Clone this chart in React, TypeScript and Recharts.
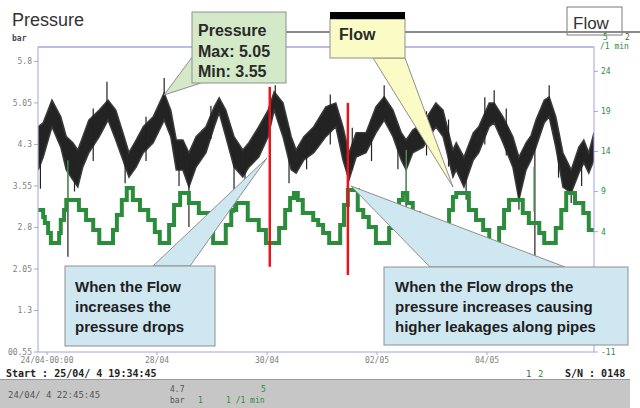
import React from "react";
import { ComposedChart, Area, Line, XAxis, YAxis, ReferenceLine } from "recharts";

// ---- data ----
const xTicks = [0, 2, 4, 6, 8];
const xTickLabels = ["24/04-00:00", "28/04", "30/04", "02/05", "04/05"];

const leftTicks = [0.55, 1.3, 2.05, 2.8, 3.55, 4.3, 5.05, 5.8];
const leftTickLabels = ["00.55", "1.3", "2.05", "2.8", "3.55", "4.3", "5.05", "5.8"];

// -6 and -1 are hidden behind the callout box in the reference
const rightTicks = [-11, -6, -1, 4, 9, 14, 19, 24];
const rightTickLabels = ["-11", "", "", "4", "9", "14", "19", "24"];

// pressure band (days since 26/04 00:00)
const pDays = [-0.16, -0.07, 0.09, 0.25, 0.35, 0.47, 0.56, 0.65, 0.76, 0.95, 1.11, 1.25, 1.38, 1.49, 1.62, 1.75, 1.93, 2.13, 2.25, 2.35, 2.47, 2.58, 2.71, 2.89, 3.04, 3.13, 3.25, 3.4, 3.56, 3.67, 3.85, 4.02, 4.13, 4.29, 4.44, 4.53, 4.67, 4.85, 5.07, 5.25, 5.38, 5.49, 5.62, 5.8, 5.98, 6.13, 6.29, 6.44, 6.53, 6.65, 6.84, 7.07, 7.2, 7.38, 7.44, 7.58, 7.75, 7.85, 8.04, 8.13, 8.29, 8.47, 8.58, 8.71, 8.8, 8.89, 9.04, 9.13, 9.25, 9.38, 9.53, 9.67, 9.76, 9.85, 9.945];
const pLow = [3.84, 4.07, 4.62, 4.25, 3.84, 3.66, 3.53, 3.89, 4.15, 4.44, 4.74, 4.38, 4.02, 3.71, 3.89, 4.15, 4.33, 4.74, 4.44, 3.84, 3.84, 3.53, 3.89, 4.15, 4.62, 4.87, 4.44, 3.89, 3.71, 3.89, 4.07, 4.44, 4.92, 4.44, 3.84, 3.78, 4.02, 4.15, 4.44, 4.62, 4.02, 3.66, 4.07, 4.15, 4.51, 4.74, 4.44, 4.02, 3.84, 4.15, 4.25, 4.62, 4.44, 3.71, 3.84, 3.53, 4.02, 4.15, 4.62, 4.69, 4.33, 3.89, 3.3, 3.84, 4.02, 4.25, 4.69, 4.8, 4.25, 3.53, 3.42, 3.78, 3.97, 3.78, 4.02];
const pHigh = [4.62, 4.69, 5.1, 4.8, 4.44, 4.33, 4.2, 4.44, 4.74, 4.92, 5.1, 4.92, 4.51, 4.15, 4.38, 4.62, 4.8, 5.23, 4.92, 4.38, 4.38, 4.15, 4.44, 4.62, 4.98, 5.14, 4.92, 4.44, 4.2, 4.33, 4.62, 4.92, 5.25, 5.05, 4.44, 4.2, 4.44, 4.62, 4.98, 5.05, 4.62, 4.15, 4.51, 4.51, 4.98, 5.16, 4.92, 4.51, 4.38, 4.56, 4.69, 5.05, 4.92, 4.2, 4.33, 4.07, 4.51, 4.62, 5.05, 5.05, 4.8, 4.44, 4.07, 4.33, 4.46, 4.74, 5.1, 5.16, 4.8, 4.15, 3.84, 4.25, 4.38, 4.15, 4.51];

// isolated pressure spikes: day, from, to
const pSpikeDays = [0.38, 1.09, 2.13, 2.58, 3.4, 4.15, 6.13, 6.53, 8.13, 8.58, 8.87, 9.13, 9.53, -0.12, 0.5, 0.84, 1.42, 1.8, 2.4, 2.98, 3.6, 4.4, 4.72, 5.15, 5.55, 5.9, 6.38, 6.9, 7.3, 7.62, 7.96, 8.35, 9.3, 9.72];
const pSpikeFrom = [2.27, 4.9, 5.0, 2.81, 3.06, 5.0, 5.0, 2.99, 4.9, 3.12, 2.21, 5.0, 3.24, 3.5, 3.45, 4.0, 3.6, 4.0, 3.55, 4.4, 3.5, 3.6, 3.85, 4.3, 3.85, 4.0, 3.85, 4.1, 3.9, 3.3, 4.3, 4.1, 3.7, 3.55];
const pSpikeTo = [4.4, 5.43, 5.5, 4.0, 4.2, 5.37, 5.37, 4.0, 5.28, 3.8, 4.3, 5.37, 3.6, 4.4, 4.1, 4.95, 4.3, 4.8, 4.3, 5.0, 4.2, 4.6, 4.4, 5.2, 4.6, 4.75, 4.6, 4.9, 4.75, 3.9, 5.15, 4.95, 4.5, 4.2];

// flow steps
const fDays = [-0.16, -0.07, -0.04, 0.02, 0.07, 0.22, 0.25, 0.31, 0.35, 0.58, 0.71, 0.84, 0.95, 1.2, 1.27, 1.36, 1.45, 1.56, 1.69, 1.84, 1.96, 2.05, 2.22, 2.31, 2.42, 2.58, 2.76, 2.93, 3.02, 3.25, 3.35, 3.44, 3.65, 3.85, 3.98, 4.22, 4.33, 4.42, 4.49, 4.56, 4.65, 4.84, 4.93, 5.02, 5.13, 5.33, 5.4, 5.47, 5.65, 5.75, 5.85, 5.98, 6.22, 6.31, 6.4, 6.47, 6.55, 6.65, 6.76, 6.89, 7.02, 7.22, 7.31, 7.38, 7.44, 7.67, 7.8, 7.93, 8.04, 8.22, 8.31, 8.4, 8.65, 8.76, 8.95, 9.04, 9.25, 9.35, 9.44, 9.6, 9.75, 9.85, 9.945];
const fValues = [6.71, 5.83, 5.09, 3.84, 2.59, 3.84, 5.46, 6.71, 7.95, 6.71, 5.46, 4.21, 2.59, 4.21, 6.08, 7.95, 9.45, 7.95, 6.71, 5.46, 3.96, 2.59, 4.84, 7.33, 8.83, 7.58, 6.33, 5.09, 2.59, 4.84, 6.71, 7.58, 5.46, 4.21, 2.59, 4.46, 6.71, 8.2, 8.83, 7.95, 6.33, 5.46, 4.84, 3.84, 2.59, 4.84, 7.33, 9.2, 6.71, 5.83, 4.59, 2.59, 4.46, 6.33, 7.95, 8.83, 7.58, 6.33, 5.09, 3.84, 2.59, 4.46, 6.71, 8.33, 8.83, 6.71, 5.46, 4.21, 2.59, 4.46, 6.71, 7.95, 6.33, 5.09, 3.84, 2.59, 4.46, 6.71, 8.83, 7.58, 6.33, 4.21, 4.21];

// thin flow spikes
const fSpikeDays = [0.38, 6.53, 8.85];
const fSpikeFrom = [7.95, 8.5, 6.5];
const fSpikeTo = [12.9, 14.2, 12.1];

// annotation markers (red)
const markerDays = [4.05, 5.47];
const markerFrom = [2.09, 1.94];
const markerTo = [5.34, 5.05];

const leftDomain = [0.55, 6.06];
const rightDomain = [-11, 27.03];
const xDomain = [-0.164, 9.945];

const pressureData = pDays.map((d, i) => ({ day: d, range: [pLow[i], pHigh[i]] }));
const flowData = fDays.map((d, i) => ({ day: d, flow: fValues[i] }));

const AXIS = "#a4a4dc";
const GREEN = "#2b8c3b";
const MONO = "'DejaVu Sans Mono', monospace";
const SANS = "'Liberation Sans', Arial, sans-serif";

export default function App() {
  return (
    <div style={{ position: "absolute", left: 0, top: 0, width: 640, height: 408, background: "#fff", overflow: "hidden" }}>
      <ComposedChart width={640} height={408} margin={{ top: 47, right: 6, bottom: 36, left: 0 }}>
        <XAxis
          type="number"
          dataKey="day"
          domain={xDomain}
          allowDataOverflow
          ticks={xTicks}
          tickFormatter={(v, i) => xTickLabels[i]}
          height={20}
          stroke={AXIS}
          tickSize={3}
          tickMargin={2}
          tick={{ fontSize: 8, fill: "#808080", fontFamily: MONO }}
        />
        <YAxis
          yAxisId="left"
          type="number"
          domain={leftDomain}
          allowDataOverflow
          ticks={leftTicks}
          tickFormatter={(v, i) => leftTickLabels[i]}
          width={38}
          stroke={AXIS}
          tickSize={4}
          tickMargin={2}
          tick={{ fontSize: 8, fill: "#808080", fontFamily: MONO }}
        />
        <YAxis
          yAxisId="right"
          orientation="right"
          type="number"
          domain={rightDomain}
          allowDataOverflow
          ticks={rightTicks}
          tickFormatter={(v, i) => rightTickLabels[i]}
          width={40}
          stroke={AXIS}
          tickSize={4}
          tickMargin={3}
          tick={{ fontSize: 8, fill: GREEN, fontFamily: MONO }}
        />
        <ReferenceLine yAxisId="left" y={leftDomain[1]} stroke={AXIS} strokeWidth={1.5} />
        <Area
          yAxisId="left"
          data={pressureData}
          dataKey="range"
          type="linear"
          stroke="#3a3a3a"
          strokeWidth={1.5}
          fill="#101010"
          fillOpacity={0.92}
          isAnimationActive={false}
          dot={false}
          activeDot={false}
        />
        {pSpikeDays.map((d, i) => (
          <ReferenceLine
            key={"ps" + i}
            yAxisId="left"
            segment={[{ x: d, y: pSpikeFrom[i] }, { x: d, y: pSpikeTo[i] }]}
            stroke="#222"
            strokeWidth={1.2}
          />
        ))}
        {fSpikeDays.map((d, i) => (
          <ReferenceLine
            key={"fs" + i}
            yAxisId="right"
            segment={[{ x: d, y: fSpikeFrom[i] }, { x: d, y: fSpikeTo[i] }]}
            stroke="#5fb56a"
            strokeWidth={1}
          />
        ))}
        <Line
          yAxisId="right"
          data={flowData}
          dataKey="flow"
          type="stepAfter"
          stroke={GREEN}
          strokeWidth={4}
          dot={false}
          activeDot={false}
          isAnimationActive={false}
        />
        {markerDays.map((d, i) => (
          <ReferenceLine
            key={"m" + i}
            yAxisId="left"
            segment={[{ x: d, y: markerFrom[i] }, { x: d, y: markerTo[i] }]}
            stroke="#e8141c"
            strokeWidth={2.5}
          />
        ))}
      </ComposedChart>

      <svg width={640} height={408} style={{ position: "absolute", left: 0, top: 0, pointerEvents: "none" }}>
        <text x={12} y={26} fontSize={18} fill="#333" fontFamily={SANS}>Pressure</text>
        <text x={12} y={41} fontSize={8} fontWeight="bold" fill="#444" fontFamily={MONO}>bar</text>

        <rect x={567} y={7} width={55} height={28} fill="#fff" stroke="#7a7a7a" strokeWidth={1} />
        <text x={573} y={29} fontSize={17} fill="#333" fontFamily={SANS}>Flow</text>
        <line x1={192} y1={32} x2={640} y2={32} stroke="#8a8a8a" strokeWidth={2} />
        <text x={603} y={40} fontSize={8} fill={GREEN} fontFamily={MONO}>5</text>
        <text x={625} y={40} fontSize={8} fill="#555" fontFamily={MONO}>2</text>
        <text x={600} y={49} fontSize={8} fill={GREEN} fontFamily={MONO}>/1 min</text>

        {/* Pressure callout */}
        <polygon points="193,56 201,83 164,95" fill="#d3e9c8" stroke="#8f8f8f" strokeWidth={1} />
        <rect x={192} y={12} width={94} height={71} fill="#d3e9c8" stroke="#8f8f8f" strokeWidth={1} />
        <text fontSize={16} fontWeight="bold" fill="#2a2a2a" fontFamily={SANS}>
          <tspan x={198} y={36}>Pressure</tspan>
          <tspan x={198} y={57}>Max: 5.05</tspan>
          <tspan x={198} y={77}>Min: 3.55</tspan>
        </text>

        {/* Flow callout */}
        <polygon points="373,58 405,58 453,187" fill="#fbfbc6" stroke="#8f8f8f" strokeWidth={1} />
        <rect x={330} y={19} width={75} height={39} fill="#fbfbc6" stroke="#8f8f8f" strokeWidth={1} />
        <rect x={330} y={12} width={75} height={7} fill="#000" />
        <text x={339} y={40} fontSize={16} fontWeight="bold" fill="#2a2a2a" fontFamily={SANS}>Flow</text>

        {/* Blue callout 1 */}
        <polygon points="153,266 190,266 267,158" fill="#cfe7f1" stroke="#8f8f8f" strokeWidth={1} />
        <rect x={65} y={266} width={150} height={80} fill="#cfe7f1" stroke="#8f8f8f" strokeWidth={1} />
        <text fontSize={15} fontWeight="bold" fill="#1e1e1e" fontFamily={SANS}>
          <tspan x={75} y={292}>When the Flow</tspan>
          <tspan x={75} y={312}>increases the</tspan>
          <tspan x={75} y={332}>pressure drops</tspan>
        </text>

        {/* Blue callout 2 */}
        <polygon points="430,267 565,267 351,186" fill="#cfe7f1" stroke="#8f8f8f" strokeWidth={1} />
        <rect x={384} y={267} width={244} height={78} fill="#cfe7f1" stroke="#8f8f8f" strokeWidth={1} />
        <text fontSize={15} fontWeight="bold" fill="#1e1e1e" fontFamily={SANS}>
          <tspan x={395} y={292}>When the Flow drops the</tspan>
          <tspan x={395} y={312}>pressure increases causing</tspan>
          <tspan x={395} y={332}>higher leakages along pipes</tspan>
        </text>

        {/* bottom info */}
        <text x={6} y={377} fontSize={10} fontWeight="bold" fill="#222" fontFamily={MONO}>Start : 25/04/ 4 19:34:45</text>
        <text x={526} y={377} fontSize={9} fill="#555" fontFamily={MONO}>1</text>
        <text x={538} y={377} fontSize={9} fill={GREEN} fontFamily={MONO}>2</text>
        <text x={565} y={377} fontSize={10} fontWeight="bold" fill="#222" fontFamily={MONO}>S/N : 0148</text>

        <rect x={0} y={379} width={630} height={29} fill="#c6c6c6" />
        <line x1={0} y1={379.5} x2={630} y2={379.5} stroke="#9a9a9a" strokeWidth={1} />
        <text x={8} y={398} fontSize={9} fill="#555" fontFamily={MONO}>24/04/ 4 22:45:45</text>
        <text x={170} y={392} fontSize={8} fill="#555" fontFamily={MONO}>4.7</text>
        <text x={170} y={403} fontSize={8} fill="#555" fontFamily={MONO}>bar</text>
        <text x={198} y={403} fontSize={8} fill={GREEN} fontFamily={MONO}>1</text>
        <text x={261} y={392} fontSize={8} fill={GREEN} fontFamily={MONO}>5</text>
        <text x={226} y={403} fontSize={8} fill={GREEN} fontFamily={MONO}>1 /1 min</text>
      </svg>
    </div>
  );
}
